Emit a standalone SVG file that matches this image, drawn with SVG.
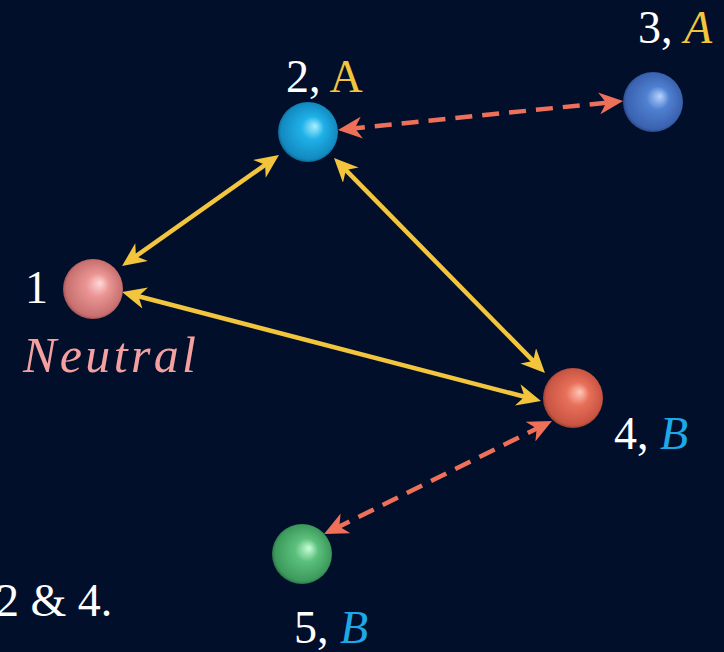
<svg xmlns="http://www.w3.org/2000/svg" width="724" height="652" viewBox="0 0 724 652">
<defs>
<style>
.t{font-family:"Liberation Serif","DejaVu Serif",serif;font-size:46px;fill:#ffffff}
.i{font-style:italic}
.ya{fill:#f2c53d}
.cb{fill:#1ea8e8}
.yl{stroke:#f2c53d;stroke-width:4.5;fill:none}
.ol{stroke:#ef7058;stroke-width:4.5;fill:none;stroke-dasharray:17 10}
</style>
<marker id="ay" markerUnits="userSpaceOnUse" markerWidth="24" markerHeight="22" refX="14" refY="11" orient="auto-start-reverse" viewBox="0 0 24 22">
<path d="M0,0 L24,11 L0,22 L7,11 z" fill="#f2c53d"/>
</marker>
<marker id="ao" markerUnits="userSpaceOnUse" markerWidth="24" markerHeight="22" refX="14" refY="11" orient="auto-start-reverse" viewBox="0 0 24 22">
<path d="M0,0 L24,11 L0,22 L7,11 z" fill="#ef7058"/>
</marker>
<radialGradient id="g1" cx="0.5" cy="0.5" r="0.55" fx="0.62" fy="0.4">
<stop offset="0" stop-color="#ffd8d8"/><stop offset="0.35" stop-color="#ea9494"/><stop offset="0.85" stop-color="#c87070"/><stop offset="1" stop-color="#7a3a3a"/>
</radialGradient>
<radialGradient id="g2" cx="0.5" cy="0.5" r="0.55" fx="0.62" fy="0.4">
<stop offset="0" stop-color="#a8f0ff"/><stop offset="0.35" stop-color="#1fb0e8"/><stop offset="0.85" stop-color="#128ac0"/><stop offset="1" stop-color="#0a4870"/>
</radialGradient>
<radialGradient id="g3" cx="0.5" cy="0.5" r="0.55" fx="0.62" fy="0.4">
<stop offset="0" stop-color="#b8d4ff"/><stop offset="0.35" stop-color="#4f80d0"/><stop offset="0.85" stop-color="#3a62b0"/><stop offset="1" stop-color="#1c3060"/>
</radialGradient>
<radialGradient id="g4" cx="0.5" cy="0.5" r="0.55" fx="0.62" fy="0.4">
<stop offset="0" stop-color="#ffc8b8"/><stop offset="0.35" stop-color="#e8705a"/><stop offset="0.85" stop-color="#c85442"/><stop offset="1" stop-color="#6a2a20"/>
</radialGradient>
<radialGradient id="g5" cx="0.5" cy="0.5" r="0.55" fx="0.62" fy="0.4">
<stop offset="0" stop-color="#c8ffd8"/><stop offset="0.35" stop-color="#5cc07c"/><stop offset="0.85" stop-color="#3c9a5c"/><stop offset="1" stop-color="#1c5030"/>
</radialGradient>
</defs>
<rect width="724" height="652" fill="#020f2b"/>
<g id="connectors">
<line class="yl" x1="130.2" y1="260.2" x2="270.8" y2="160.8" marker-start="url(#ay)" marker-end="url(#ay)"/>
<line class="yl" x1="341" y1="165.1" x2="538" y2="365.9" marker-start="url(#ay)" marker-end="url(#ay)"/>
<line class="yl" x1="131.7" y1="294.5" x2="531.3" y2="398.5" marker-start="url(#ay)" marker-end="url(#ay)"/>
<line class="ol" x1="347.9" y1="129" x2="613.1" y2="102" marker-start="url(#ao)" marker-end="url(#ao)"/>
<line class="ol" x1="543" y1="425.4" x2="333" y2="529.6" marker-start="url(#ao)" marker-end="url(#ao)"/>
</g>
<g id="node1">
<circle cx="93" cy="289" r="30" fill="url(#g1)"/>
<text class="t" x="25" y="303">1</text>
<text class="t i" x="23" y="372" style="fill:#f4a0a0;font-size:50px" textLength="173" lengthAdjust="spacing">Neutral</text>
</g>
<g id="node2">
<circle cx="308" cy="132" r="30" fill="url(#g2)"/>
<text class="t" x="286" y="92">2, <tspan class="ya">A</tspan></text>
</g>
<g id="node3">
<circle cx="653" cy="102" r="30" fill="url(#g3)"/>
<text class="t" x="638" y="43">3, <tspan class="ya i">A</tspan></text>
</g>
<g id="node4">
<circle cx="573" cy="398" r="30" fill="url(#g4)"/>
<text class="t" x="614" y="449">4, <tspan class="cb i">B</tspan></text>
</g>
<g id="node5">
<circle cx="302" cy="554" r="30" fill="url(#g5)"/>
<text class="t" x="294" y="643">5, <tspan class="cb i">B</tspan></text>
</g>
<text class="t" x="-4" y="616">2 &amp; 4.</text>
</svg>
